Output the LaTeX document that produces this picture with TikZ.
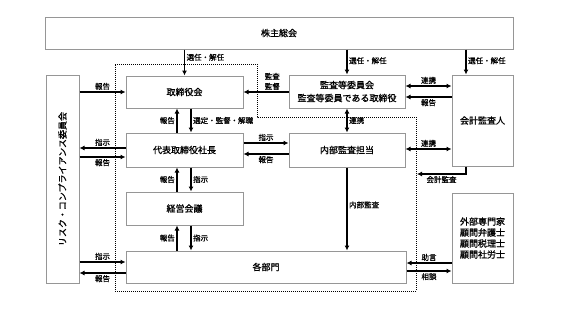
\documentclass[tikz,border=0pt]{standalone}
\usepackage{fontspec}
\setmainfont{Noto Sans CJK JP}[FakeBold=1]
\usetikzlibrary{arrows.meta,calc}
\definecolor{boxgray}{RGB}{150,150,150}
\begin{document}
\begin{tikzpicture}[x=1pt,y=-1pt]
		\tikzstyle{every node}=[font=\fontsize{9pt}{12pt}\selectfont]
		\tikzstyle{unit}=[draw=boxgray, line width=1pt, inner sep=0pt, align=center]
		\tikzstyle{arr}=[line width=1.3pt, -{Latex[length=5pt,width=5pt]}]
		\tikzstyle{both}=[line width=1.3pt, {Latex[length=5pt,width=5pt]}-{Latex[length=5pt,width=5pt]}]
		\tikzstyle{lbl}=[font=\fontsize{7.5pt}{10pt}\selectfont, inner sep=1.5pt, align=center]
		
		\useasboundingbox (0,0) rectangle (565,317);
		
		\draw[line width=1pt, dash pattern=on 1pt off 1pt] (115,64) -- (257,64) -- (257,117) -- (416,117) -- (416,291) -- (115,291) -- cycle;
		
		\node[unit, minimum width=468pt, minimum height=32pt] (gm) at (279,33) {株主総会};
		\node[unit, minimum width=33pt, minimum height=208pt] (risk) at (62.5,179) {};
		\node[rotate=90] at (risk.center) {リスク・コンプライアンス委員会};
		\node[unit, minimum width=117pt, minimum height=32pt] (board) at (184.5,92) {取締役会};
		\node[unit, minimum width=116pt, minimum height=33pt, font=\fontsize{9pt}{13pt}\selectfont] (acbd) at (347,91.5) {監査等委員会\\監査等委員である取締役};
		\node[unit, minimum width=61pt, minimum height=91pt] (auditor) at (482.5,120.5) {会計監査人};
		\node[unit, minimum width=117pt, minimum height=34pt] (ceo) at (184.5,150) {代表取締役社長};
		\node[unit, minimum width=116pt, minimum height=34pt] (internal) at (347,150) {内部監査担当};
		\node[unit, minimum width=117pt, minimum height=33pt] (mgmt) at (184.5,208.5) {経営会議};
		\node[unit, minimum width=280pt, minimum height=32pt] (depts) at (266,267) {各部門};
		\node[unit, minimum width=61pt, minimum height=90pt, font=\fontsize{9pt}{11pt}\selectfont] (experts) at (482.5,238) {外部専門家\\顧問弁護士\\顧問税理士\\顧問社労士};
		
		\coordinate (audtop) at ($(auditor.north)+(-16.5,0)$);
		\coordinate (dotR) at (417,174);
		
		\draw[arr] (gm.south -| board.north) -- (board.north) node[lbl, right, pos=0.3] {選任・解任};
		\draw[arr] (gm.south -| acbd.north) -- (acbd.north) node[lbl, right, pos=0.45] {選任・解任};
		\draw[arr] (gm.south -| audtop) -- (audtop) node[lbl, right, pos=0.45] {選任・解任};
		
		\draw[arr] (risk.east |- board.west) -- (board.west) node[lbl, above, midway] {報告};
		\draw[arr] (acbd.west |- board.east) -- (board.east) node[lbl, above, pos=0.36] {監査\\監督};
		\draw[both] ($(acbd.east)+(0,-5.5)$) -- ($(acbd.east -| auditor.west)+(0,-5.5)$) node[lbl, above, midway] {連携};
		\draw[arr] ($(acbd.east -| auditor.west)+(0,5.5)$) -- ($(acbd.east)+(0,5.5)$) node[lbl, below, midway] {報告};
		
		\draw[arr] ($(ceo.north)+(-7.5,0)$) -- ($(board.south)+(-7.5,0)$) node[lbl, left, midway] {報告};
		\draw[arr] ($(board.south)+(6.5,0)$) -- ($(ceo.north)+(6.5,0)$) node[lbl, right, midway] {選定・監督・解職};
		
		\draw[arr] ($(ceo.west)+(0,-2)$) -- ($(risk.east |- ceo.west)+(0,-2)$) node[lbl, above, midway] {指示};
		\draw[arr] ($(risk.east |- ceo.west)+(0,7)$) -- ($(ceo.west)+(0,7)$) node[lbl, below, midway] {報告};
		
		\draw[arr] ($(ceo.east)+(0,-7)$) -- ($(ceo.east -| internal.west)+(0,-7)$) node[lbl, above, midway] {指示};
		\draw[arr] ($(ceo.east -| internal.west)+(0,4)$) -- ($(ceo.east)+(0,4)$) node[lbl, below, midway] {報告};
		
		\draw[both] (acbd.south) -- (internal.north) node[lbl, right, midway] {連携};
		\draw[both] ($(internal.east)+(0,-1)$) -- ($(internal.east -| auditor.west)+(0,-1)$) node[lbl, above, midway] {連携};
		\draw[arr] (audtop |- auditor.south) |- (dotR) node[lbl, below, pos=0.75] {会計監査};
		
		\draw[arr] ($(mgmt.north)+(-7.5,0)$) -- ($(ceo.south)+(-7.5,0)$) node[lbl, left, midway] {報告};
		\draw[arr] ($(ceo.south)+(6.5,0)$) -- ($(mgmt.north)+(6.5,0)$) node[lbl, right, midway] {指示};
		
		\draw[arr] ($(depts.north -| mgmt.south)+(-7.5,0)$) -- ($(mgmt.south)+(-7.5,0)$) node[lbl, left, midway] {報告};
		\draw[arr] ($(mgmt.south)+(6.5,0)$) -- ($(depts.north -| mgmt.south)+(6.5,0)$) node[lbl, right, midway] {指示};
		
		\draw[arr] (internal.south) -- (depts.north -| internal.south) node[lbl, right, pos=0.45] {内部監査};
		
		\draw[arr] ($(risk.east |- depts.west)+(0,-5)$) -- ($(depts.west)+(0,-5)$) node[lbl, above, midway] {指示};
		\draw[arr] ($(depts.west)+(0,6)$) -- ($(risk.east |- depts.west)+(0,6)$) node[lbl, below, midway] {報告};
		
		\draw[arr] ($(depts.east -| experts.west)+(0,-4)$) -- ($(depts.east)+(0,-4)$) node[lbl, above, midway] {助言};
		\draw[arr] ($(depts.east)+(0,4)$) -- ($(depts.east -| experts.west)+(0,4)$) node[lbl, below, midway] {相談};
		
	\end{tikzpicture}
\end{document}
